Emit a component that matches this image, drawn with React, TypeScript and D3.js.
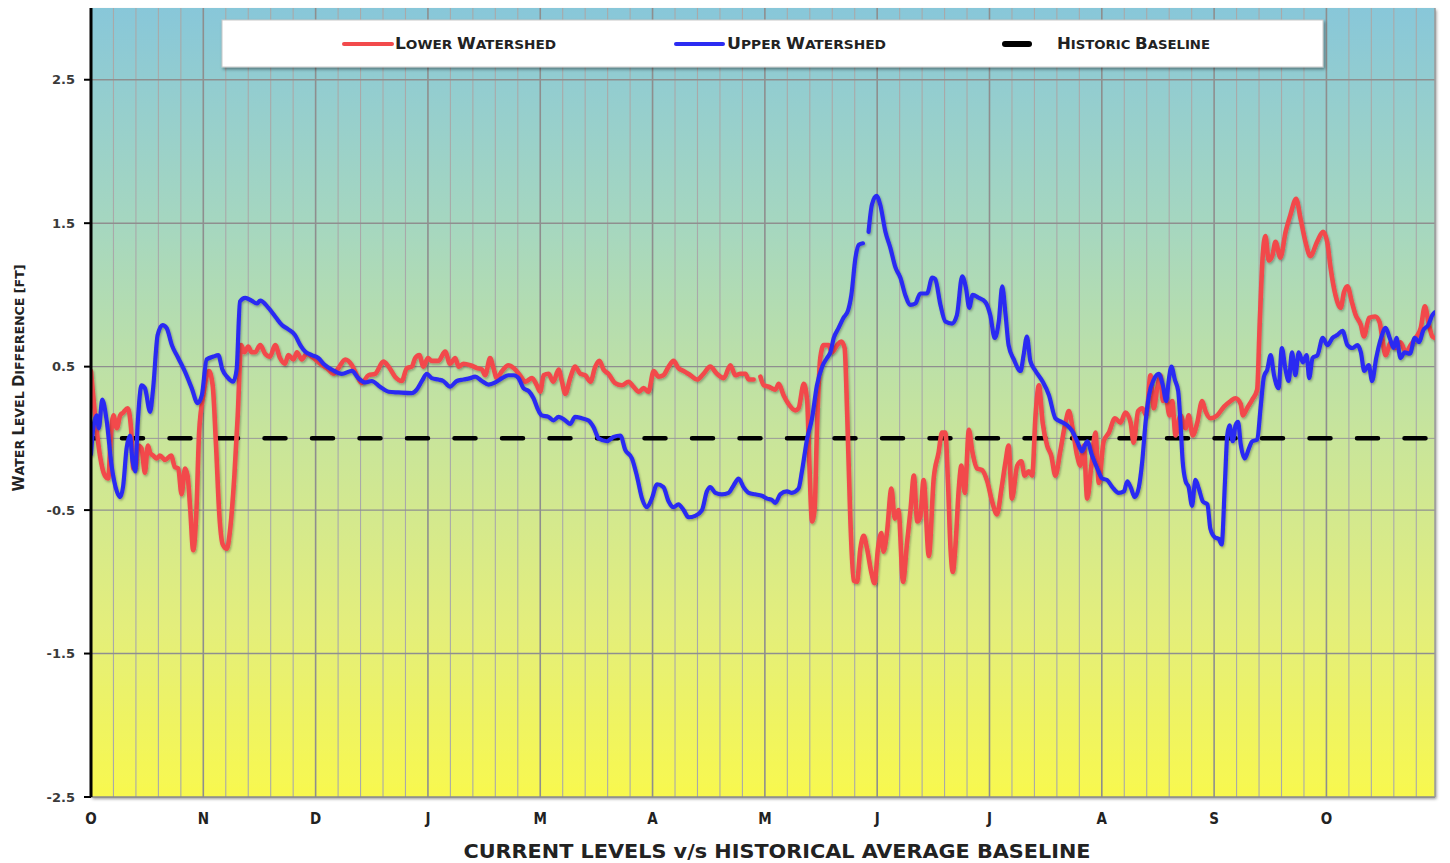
import * as d3 from 'd3';

type Pt = [number, number | null];

// x = day of the water year (label every 30 days, minor grid every 6 days)
const MONTHS = ['O', 'N', 'D', 'J', 'M', 'A', 'M', 'J', 'J', 'A', 'S', 'O'];
const LAST_DAY = 359;
const Y_TICKS = [2.5, 1.5, 0.5, -0.5, -1.5, -2.5];

const LOWER_WATERSHED: Pt[] = [
  [0, 0.47], [1.1, 0.16], [2.4, -0.12], [3.7, -0.26], [4.6, -0.28], [5.3, 0.02], [6.0, 0.16], [6.9, 0.07],
  [7.8, 0.16], [8.6, 0.18], [9.8, 0.21], [10.7, 0.07], [11.3, -0.21], [11.9, -0.21], [12.6, -0.05], [13.5, -0.07],
  [14.4, -0.24], [15.2, -0.05], [15.8, -0.1], [16.6, -0.12], [17.6, -0.14], [18.4, -0.12], [19.8, -0.15], [21.4, -0.12],
  [22.4, -0.2], [23.3, -0.21], [24.2, -0.39], [25.1, -0.21], [25.8, -0.26], [26.5, -0.49], [27.3, -0.78], [28.1, -0.54],
  [28.9, 0.05], [30.0, 0.3], [31.5, 0.47], [32.5, 0.37], [33.4, -0.05], [34.3, -0.54], [35.2, -0.74], [36.3, -0.77],
  [37.1, -0.65], [38.3, -0.26], [39.2, 0.16], [40.1, 0.65], [41.0, 0.6], [42.0, 0.64], [42.9, 0.6], [43.8, 0.6],
  [45.2, 0.65], [46.5, 0.59], [47.8, 0.57], [49.2, 0.65], [50.5, 0.56], [51.8, 0.52], [52.7, 0.58], [54.1, 0.55],
  [55.0, 0.6], [56.3, 0.55], [57.6, 0.59], [59.4, 0.56], [61.2, 0.52], [63.0, 0.49], [64.8, 0.45], [66.1, 0.49],
  [67.9, 0.55], [69.7, 0.51], [71.0, 0.44], [72.3, 0.385], [74.1, 0.44], [75.9, 0.45], [78.1, 0.535], [79.5, 0.5],
  [81.2, 0.43], [83.0, 0.4], [84.4, 0.49], [85.7, 0.5], [86.6, 0.56], [87.7, 0.58], [88.8, 0.5], [90.0, 0.56],
  [91.0, 0.54], [92.8, 0.54], [94.6, 0.605], [95.9, 0.52], [97.3, 0.56], [98.2, 0.5], [99.5, 0.52], [101.3, 0.51],
  [103.1, 0.49], [104.4, 0.48], [105.3, 0.44], [106.6, 0.56], [107.5, 0.49], [108.4, 0.42], [109.8, 0.47], [111.5, 0.51],
  [112.9, 0.49], [114.6, 0.44], [116.0, 0.395], [117.8, 0.42], [119.1, 0.37], [120.0, 0.325], [120.9, 0.44], [122.2, 0.45],
  [123.5, 0.395], [124.9, 0.48], [125.8, 0.395], [126.7, 0.31], [128.0, 0.42], [129.3, 0.5], [130.7, 0.45], [132.0, 0.44],
  [133.4, 0.395], [134.7, 0.5], [135.8, 0.54], [136.9, 0.48], [138.2, 0.45], [140.0, 0.385], [141.8, 0.37], [143.6, 0.395],
  [144.9, 0.36], [146.3, 0.325], [147.6, 0.35], [148.9, 0.325], [150.3, 0.47], [151.6, 0.43], [152.9, 0.44], [154.3, 0.5],
  [155.6, 0.54], [156.9, 0.49], [158.3, 0.47], [160.1, 0.44], [161.9, 0.41], [163.6, 0.45], [165.4, 0.5], [167.2, 0.45],
  [169.0, 0.42], [170.8, 0.51], [172.1, 0.44], [173.4, 0.45], [174.8, 0.45], [175.7, 0.41], [177.0, 0.41], [178.0, null],
  [178.8, 0.43], [179.7, 0.37], [181.0, 0.36], [182.8, 0.34], [183.7, 0.38], [185.0, 0.3], [186.3, 0.24], [188.1, 0.195],
  [189.0, 0.21], [190.4, 0.38], [191.3, 0.26], [191.9, -0.19], [192.6, -0.58], [193.3, -0.49], [193.9, 0.05], [194.8, 0.56],
  [195.7, 0.65], [197.0, 0.65], [197.9, 0.6], [199.3, 0.65], [200.4, 0.675], [201.3, 0.63], [202.0, 0.16], [202.8, -0.54],
  [203.7, -0.99], [204.6, -1.0], [205.5, -0.77], [206.4, -0.68], [207.3, -0.77], [208.4, -0.93], [209.3, -1.01], [210.2, -0.77],
  [211.1, -0.66], [211.7, -0.79], [212.6, -0.66], [213.8, -0.35], [214.7, -0.56], [215.7, -0.5], [216.9, -1.0], [218.0, -0.72],
  [218.9, -0.5], [219.8, -0.26], [220.7, -0.58], [221.5, -0.55], [222.4, -0.29], [223.8, -0.82], [225.1, -0.28], [226.4, -0.1],
  [227.3, 0.04], [228.2, 0.04], [228.9, -0.3], [229.6, -0.77], [230.2, -0.93], [230.9, -0.75], [231.8, -0.35], [232.5, -0.19],
  [233.4, -0.38], [234.5, 0.06], [235.4, -0.09], [236.7, -0.21], [238.0, -0.22], [239.4, -0.3], [240.7, -0.44], [242.0, -0.53],
  [243.2, -0.35], [244.3, -0.16], [245.1, -0.05], [246.0, -0.42], [247.4, -0.19], [248.5, -0.16], [249.4, -0.26], [250.5, -0.23],
  [251.4, -0.26], [252.3, 0.16], [253.2, 0.37], [254.2, 0.11], [255.4, -0.05], [256.5, -0.12], [257.6, -0.26], [258.9, -0.09],
  [260.3, 0.11], [261.2, 0.19], [262.2, 0.07], [263.4, -0.12], [264.3, -0.19], [265.2, -0.05], [266.1, -0.42], [267.2, -0.19],
  [268.3, 0.04], [269.2, -0.31], [270.5, -0.02], [271.9, 0.04], [273.5, 0.14], [275.0, 0.11], [276.3, 0.18], [277.7, 0.11],
  [278.5, -0.03], [279.7, 0.19], [280.8, 0.21], [281.9, 0.16], [283.0, 0.44], [283.9, 0.21], [284.8, 0.35], [285.7, 0.44],
  [286.3, 0.26], [287.0, 0.3], [288.1, 0.16], [288.8, 0.26], [289.7, 0.02], [291.0, 0.16], [292.4, 0.07], [293.2, 0.16],
  [294.3, 0.02], [295.5, 0.11], [296.8, 0.26], [297.7, 0.19], [299.0, 0.14], [300.8, 0.16], [302.6, 0.22], [304.4, 0.26],
  [305.7, 0.28], [307.1, 0.24], [307.7, 0.16], [308.8, 0.21], [310.2, 0.27], [311.5, 0.34], [312.2, 0.815], [313.0, 1.28],
  [313.7, 1.41], [314.6, 1.24], [315.5, 1.27], [316.4, 1.37], [317.7, 1.26], [319.1, 1.44], [320.4, 1.56], [321.9, 1.67],
  [323.1, 1.53], [324.4, 1.37], [325.7, 1.27], [327.5, 1.37], [329.1, 1.44], [330.2, 1.37], [331.1, 1.19], [332.4, 1.0],
  [333.8, 0.91], [334.7, 1.02], [335.6, 1.06], [336.8, 0.95], [337.8, 0.86], [339.2, 0.79], [340.0, 0.71], [341.4, 0.84],
  [343.0, 0.85], [344.2, 0.81], [344.9, 0.7], [345.8, 0.58], [347.2, 0.67], [348.5, 0.63], [349.8, 0.67], [351.2, 0.6],
  [352.5, 0.65], [353.8, 0.7], [355.2, 0.77], [356.3, 0.92], [357.4, 0.79], [358.3, 0.71], [359.0, 0.7],
];

const UPPER_WATERSHED: Pt[] = [
  [0, -0.11], [0.6, 0.07], [1.5, 0.16], [2.1, 0.07], [3.0, 0.27], [4.2, 0.12], [5.5, -0.19], [6.9, -0.37],
  [7.8, -0.41], [8.6, -0.33], [9.5, -0.07], [10.4, 0.02], [11.1, -0.16], [11.8, -0.23], [12.5, 0.115], [13.5, 0.37],
  [14.4, 0.35], [15.8, 0.185], [16.6, 0.35], [17.8, 0.72], [19.1, 0.79], [20.2, 0.77], [21.6, 0.65], [23.3, 0.56],
  [25.1, 0.465], [26.9, 0.35], [28.5, 0.245], [29.6, 0.3], [30.9, 0.55], [32.7, 0.57], [34.0, 0.58], [35.1, 0.48],
  [36.3, 0.43], [38.0, 0.395], [38.9, 0.48], [39.8, 0.955], [41.2, 0.98], [42.9, 0.96], [44.3, 0.94], [45.2, 0.96],
  [47.4, 0.91], [49.2, 0.85], [51.0, 0.79], [52.7, 0.76], [54.5, 0.72], [55.9, 0.65], [57.2, 0.605], [59.0, 0.58],
  [60.7, 0.56], [62.5, 0.51], [64.3, 0.48], [67.0, 0.45], [69.7, 0.47], [71.4, 0.42], [73.2, 0.39], [75.0, 0.4],
  [77.2, 0.36], [79.5, 0.325], [82.1, 0.32], [85.7, 0.315], [87.0, 0.34], [88.4, 0.4], [89.7, 0.45], [91.0, 0.42],
  [92.8, 0.41], [94.1, 0.4], [95.9, 0.36], [97.7, 0.4], [99.5, 0.41], [101.3, 0.42], [102.6, 0.43], [104.4, 0.4],
  [106.2, 0.375], [108.0, 0.39], [109.8, 0.42], [111.5, 0.44], [112.9, 0.44], [114.2, 0.42], [115.5, 0.35], [116.9, 0.33],
  [118.2, 0.28], [119.5, 0.195], [120.4, 0.16], [122.2, 0.15], [123.5, 0.125], [124.9, 0.15], [126.7, 0.125], [128.0, 0.1],
  [129.3, 0.15], [131.1, 0.14], [132.9, 0.125], [134.2, 0.08], [135.6, 0.0], [137.8, -0.02], [139.6, 0.01], [141.4, 0.02],
  [142.7, -0.08], [144.5, -0.14], [145.8, -0.26], [147.2, -0.42], [148.5, -0.48], [149.8, -0.42], [151.2, -0.32], [152.9, -0.34],
  [154.3, -0.44], [155.6, -0.48], [156.9, -0.46], [158.3, -0.5], [159.6, -0.55], [161.4, -0.54], [163.2, -0.5], [164.5, -0.37],
  [165.4, -0.34], [166.8, -0.38], [168.5, -0.39], [170.3, -0.38], [171.6, -0.33], [173.0, -0.28], [174.3, -0.34], [175.7, -0.38],
  [177.4, -0.39], [179.2, -0.4], [180.6, -0.42], [181.9, -0.43], [182.8, -0.45], [184.1, -0.39], [185.9, -0.37], [187.2, -0.38],
  [189.0, -0.35], [189.9, -0.23], [191.3, 0.0], [192.6, 0.14], [193.9, 0.37], [195.3, 0.5], [196.6, 0.56], [197.5, 0.6],
  [198.4, 0.7], [199.7, 0.77], [201.0, 0.84], [202.2, 0.89], [203.1, 1.0], [204.2, 1.26], [205.1, 1.35], [206.2, 1.36],
  [207.0, null], [207.7, 1.44], [208.6, 1.63], [209.8, 1.69], [210.8, 1.63], [212.2, 1.44], [213.5, 1.33], [214.9, 1.19],
  [216.2, 1.12], [217.5, 1.0], [218.9, 0.93], [220.2, 0.94], [221.5, 1.01], [223.3, 1.01], [224.7, 1.12], [225.5, 1.11],
  [226.9, 0.93], [228.2, 0.815], [230.0, 0.8], [231.3, 0.86], [232.7, 1.13], [233.7, 1.05], [234.6, 0.91], [235.5, 1.0],
  [237.1, 0.98], [238.9, 0.95], [240.2, 0.86], [241.4, 0.7], [242.5, 0.82], [243.4, 1.06], [244.3, 0.86], [245.1, 0.65],
  [246.5, 0.55], [248.3, 0.47], [249.1, 0.58], [250.0, 0.71], [250.9, 0.54], [252.3, 0.47], [254.1, 0.4], [255.9, 0.3],
  [257.6, 0.14], [259.2, 0.115], [260.8, 0.09], [262.1, 0.05], [263.4, -0.02], [264.7, -0.09], [266.1, -0.02], [267.4, -0.12],
  [268.8, -0.21], [270.1, -0.28], [271.4, -0.29], [272.8, -0.34], [274.5, -0.38], [275.9, -0.37], [276.8, -0.3], [277.7, -0.34],
  [278.8, -0.41], [279.9, -0.34], [280.8, -0.16], [281.7, 0.115], [282.6, 0.3], [283.9, 0.41], [285.2, 0.45], [286.3, 0.37],
  [287.2, 0.26], [287.9, 0.41], [288.6, 0.5], [289.5, 0.41], [290.4, 0.33], [291.0, 0.115], [291.6, -0.16], [292.4, -0.3],
  [293.2, -0.34], [294.1, -0.47], [295.0, -0.29], [295.9, -0.35], [297.0, -0.44], [298.2, -0.46], [299.0, -0.63], [300.2, -0.69],
  [301.2, -0.7], [302.0, -0.74], [302.9, -0.3], [303.5, 0.02], [304.1, 0.09], [305.0, -0.02], [305.7, 0.09], [306.4, 0.115],
  [307.1, -0.04], [308.2, -0.14], [309.3, -0.07], [310.2, -0.02], [311.5, -0.01], [312.4, 0.21], [313.3, 0.43], [314.2, 0.48],
  [315.1, 0.58], [316.0, 0.44], [317.2, 0.35], [318.1, 0.63], [319.0, 0.49], [319.9, 0.4], [320.8, 0.6], [321.7, 0.44],
  [322.6, 0.6], [323.7, 0.53], [324.7, 0.58], [325.4, 0.42], [326.3, 0.56], [327.6, 0.58], [329.0, 0.7], [330.3, 0.65],
  [331.6, 0.7], [332.9, 0.72], [334.3, 0.75], [335.6, 0.65], [336.9, 0.63], [338.3, 0.65], [339.2, 0.6], [340.1, 0.47],
  [341.3, 0.51], [342.2, 0.4], [343.3, 0.56], [344.6, 0.7], [345.8, 0.77], [346.9, 0.7], [348.0, 0.63], [348.7, 0.7],
  [349.8, 0.56], [350.9, 0.6], [352.3, 0.59], [353.6, 0.7], [354.8, 0.67], [355.8, 0.75], [357.2, 0.79], [358.3, 0.86],
  [359.0, 0.88],
];

const HISTORIC_BASELINE: Pt[] = [[0, 0], [LAST_DAY, 0]];

const LEGEND = [
  { label: 'Lower Watershed', color: '#f24a4c', dash: false },
  { label: 'Upper Watershed', color: '#2b2cf2', dash: false },
  { label: 'Historic Baseline', color: '#000000', dash: true },
];

const FONT = "'Liberation Sans Narrow', 'DejaVu Sans Condensed', 'Roboto', sans-serif";

// render "Lower Watershed" as small caps: big first letters, smaller uppercase rest
function smallCaps(text: string, big: number, small: number) {
  const out: JSX.Element[] = [];
  text.split(' ').forEach((w, wi) => {
    if (wi > 0) out.push(<tspan key={`s${wi}`} fontSize={small}>{' '}</tspan>);
    if (/[A-Z]/.test(w[0])) {
      out.push(<tspan key={`b${wi}`} fontSize={big}>{w[0]}</tspan>);
      out.push(<tspan key={`r${wi}`} fontSize={small}>{w.slice(1).toUpperCase()}</tspan>);
    } else {
      out.push(<tspan key={`r${wi}`} fontSize={small}>{w.toUpperCase()}</tspan>);
    }
  });
  return out;
}

export default function App() {
  const width = 1450;
  const height = 863;
  const margin = { top: 8, right: 15, bottom: 66, left: 91 };
  const innerW = width - margin.left - margin.right;
  const innerH = height - margin.top - margin.bottom;

  const x = d3.scaleLinear().domain([0, LAST_DAY]).range([0, innerW]);
  const y = d3.scaleLinear().domain([-2.5, 3]).range([innerH, 0]);

  const line = d3.line<Pt>()
    .defined(d => d[1] !== null)
    .x(d => x(d[0]))
    .y(d => y(d[1] as number))
    .curve(d3.curveMonotoneX);

  const minor = d3.range(6, LAST_DAY, 6);
  const monthDays = MONTHS.map((_, i) => i * 30);

  const legendItems = [
    { ...LEGEND[0], lineX: 344, lineW: 48, textX: 395, textW: 161 },
    { ...LEGEND[1], lineX: 676, lineW: 47, textX: 727, textW: 159 },
    { ...LEGEND[2], lineX: 1005, lineW: 24, textX: 1057, textW: 153 },
  ];

  return (
    <svg width={width} height={height} style={{ position: 'absolute', left: 0, top: 0, background: '#fff' }}>
      <defs>
        <linearGradient id="bg" x1="0" y1="0" x2="0" y2="1">
          <stop offset="0%" stopColor="#88c7d9" />
          <stop offset="28%" stopColor="#a6d7bf" />
          <stop offset="55%" stopColor="#c9e59a" />
          <stop offset="78%" stopColor="#e3ee7c" />
          <stop offset="100%" stopColor="#f8f84e" />
        </linearGradient>
        <filter id="shadow" x="-5%" y="-5%" width="110%" height="110%">
          <feDropShadow dx="1" dy="1.5" stdDeviation="1.2" floodColor="#000" floodOpacity="0.3" />
        </filter>
        <filter id="boxShadow" x="-2%" y="-20%" width="104%" height="150%">
          <feDropShadow dx="1.5" dy="2" stdDeviation="1.5" floodColor="#000" floodOpacity="0.4" />
        </filter>
        <clipPath id="plotClip">
          <rect x={0} y={0} width={innerW} height={innerH} />
        </clipPath>
      </defs>

      <g transform={`translate(${margin.left},${margin.top})`}>
        <rect width={innerW} height={innerH} fill="url(#bg)" filter="url(#boxShadow)" />

        {/* vertical grid */}
        {minor.map(d => (
          <line key={`v${d}`} x1={x(d)} x2={x(d)} y1={0} y2={innerH}
            stroke={d % 30 === 0 ? '#8e8e8e' : '#a9a9a9'} strokeWidth={d % 30 === 0 ? 1.6 : 1.1} />
        ))}
        {/* horizontal grid */}
        {Y_TICKS.filter(t => t > -2.5).map(t => (
          <line key={`h${t}`} x1={0} x2={innerW} y1={y(t)} y2={y(t)} stroke="#8f8f8f" strokeWidth={1.4} />
        ))}
        <line x1={0} x2={innerW} y1={y(0)} y2={y(0)} stroke="#999" strokeWidth={1} />
        <line x1={0} x2={innerW} y1={innerH} y2={innerH} stroke="#8a8a8a" strokeWidth={1.5} />
        <line x1={innerW} x2={innerW} y1={0} y2={innerH} stroke="#9a9a9a" strokeWidth={1.5} />

        <g clipPath="url(#plotClip)">
          <path d={line(HISTORIC_BASELINE) ?? ''} fill="none" stroke="#000" strokeWidth={4.5}
            strokeDasharray="21 26.5" strokeDashoffset={16.5} strokeLinecap="round" />
          <path d={line(LOWER_WATERSHED) ?? ''} fill="none" stroke={LEGEND[0].color} strokeWidth={4.6}
            strokeLinejoin="round" strokeLinecap="round" filter="url(#shadow)" />
          <path d={line(UPPER_WATERSHED) ?? ''} fill="none" stroke={LEGEND[1].color} strokeWidth={4.2}
            strokeLinejoin="round" strokeLinecap="round" filter="url(#shadow)" />
        </g>

        {/* y axis */}
        <line x1={0} x2={0} y1={0} y2={innerH} stroke="#000" strokeWidth={3} />
        {Y_TICKS.map(t => (
          <g key={`yt${t}`} transform={`translate(0,${y(t)})`}>
            <line x1={-7} x2={0} stroke="#000" strokeWidth={2} />
            <text x={-16} dy="0.35em" textAnchor="end" fontFamily="'DejaVu Sans', sans-serif" fontWeight="bold"
              fontSize={13} fill="#3a3a3a">{t}</text>
          </g>
        ))}

        {/* x labels */}
        {monthDays.map((d, i) => (
          <text key={`m${i}`} x={x(d)} y={innerH + 27} textAnchor="middle" fontFamily={FONT} fontWeight="bold"
            fontSize={15} fill="#222">{MONTHS[i]}</text>
        ))}
      </g>

      {/* legend */}
      <rect x={222} y={20} width={1101} height={47} fill="#fff" stroke="#c8c8c8" strokeWidth={1} filter="url(#boxShadow)" />
      {legendItems.map(item => (
        <g key={item.label}>
          <line x1={item.lineX} x2={item.lineX + item.lineW} y1={44} y2={44} stroke={item.color}
            strokeWidth={item.dash ? 6 : 4} strokeLinecap="round" />
          <text x={item.textX} y={49} fontFamily={FONT} fontWeight="bold" fill="#222"
            textLength={item.textW} lengthAdjust="spacingAndGlyphs">
            {smallCaps(item.label, 15, 12)}
          </text>
        </g>
      ))}

      {/* axis titles */}
      <text transform="translate(24,378) rotate(-90)" textAnchor="middle" fontFamily={FONT} fontWeight="bold"
        fill="#222" textLength={227} lengthAdjust="spacingAndGlyphs">
        {smallCaps('Water Level Difference [ft]', 15, 13)}
      </text>
      <text x={777} y={858} textAnchor="middle" fontFamily={FONT} fontWeight="bold" fontSize={20} fill="#222"
        textLength={627} lengthAdjust="spacingAndGlyphs">
        CURRENT LEVELS v/s  HISTORICAL AVERAGE BASELINE
      </text>
    </svg>
  );
}
